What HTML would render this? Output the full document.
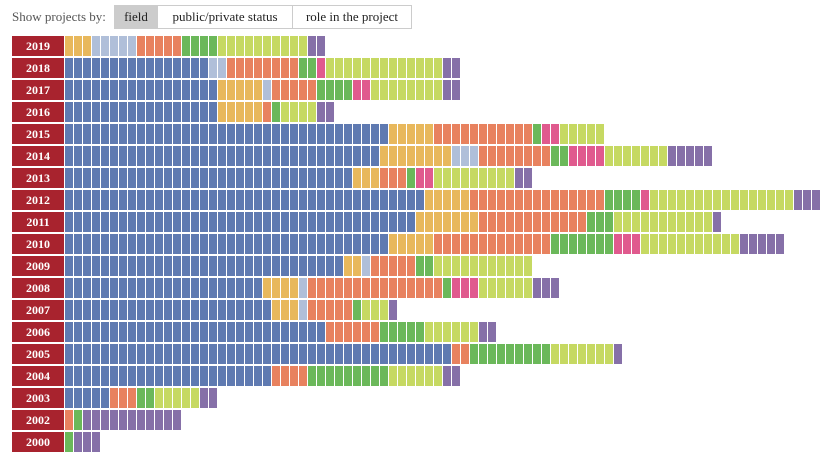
<!DOCTYPE html>
<html><head><meta charset="utf-8"><style>
body{margin:0;background:#fff;width:832px;height:463px;overflow:hidden;position:relative;font-family:"Liberation Serif",serif}
.hdr{position:absolute;left:12px;top:9px;font-size:13px;color:#555}
.btn{position:absolute;top:5px;height:22px;border:1px solid #ccc;font-size:13px;color:#222;line-height:22px;text-align:center;box-sizing:content-box}
.lab{position:absolute;left:12px;width:52px;height:20px;background:#a8232e;color:#fff;font-weight:bold;font-size:12px;line-height:20px;text-align:center}
.c{position:absolute;width:8px;height:20px}
</style></head><body>
<div class="hdr">Show projects by:</div>
<div class="btn" style="left:114px;width:42px;background:#ccc">field</div>
<div class="btn" style="left:157px;width:134px;background:#fff">public/private status</div>
<div class="btn" style="left:292px;width:118px;background:#fff">role in the project</div>
<div id="root"></div>
<script>
var col={B:"#5f7ab1",L:"#b0bfd9",Y:"#e8b85c",O:"#e8825f",G:"#6bb85a",P:"#e05a8e",C:"#c6d962",V:"#8670a8"};
var rows=[
["2019","Y3 L5 O5 G4 C10 V2"],
["2018","B16 L2 O8 G2 P1 C13 V2"],
["2017","B17 Y5 L1 O5 G4 P2 C8 V2"],
["2016","B17 Y5 O1 G1 C4 V2"],
["2015","B36 Y5 O11 G1 P2 C5"],
["2014","B35 Y8 L3 O8 G2 P4 C7 V5"],
["2013","B32 Y3 O3 G1 P2 C9 V2"],
["2012","B40 Y5 O15 G4 P1 C16 V3"],
["2011","B39 Y7 O12 G3 C11 V1"],
["2010","B36 Y5 O13 G7 P3 C11 V5"],
["2009","B31 Y2 L1 O5 G2 C11"],
["2008","B22 Y4 L1 O15 G1 P3 C6 V3"],
["2007","B23 Y3 L1 O5 G1 C3 V1"],
["2006","B29 O6 G5 C6 V2"],
["2005","B43 O2 G9 C7 V1"],
["2004","B23 O4 G9 C6 V2"],
["2003","B5 O3 G2 C5 V2"],
["2002","O1 G1 V11"],
["2000","G1 V3"]];
var h="";
rows.forEach(function(r,i){
 var y=36+i*22;
 h+='<div class="lab" style="top:'+y+'px">'+r[0]+'</div>';
 var k=0;
 r[1].split(" ").forEach(function(s){
  var c=col[s[0]],n=+s.slice(1);
  for(var j=0;j<n;j++){h+='<div class="c" style="left:'+(65+9*k)+'px;top:'+y+'px;background:'+c+'"></div>';k++;}
 });
});
document.getElementById("root").innerHTML=h;
</script>
</body></html>
